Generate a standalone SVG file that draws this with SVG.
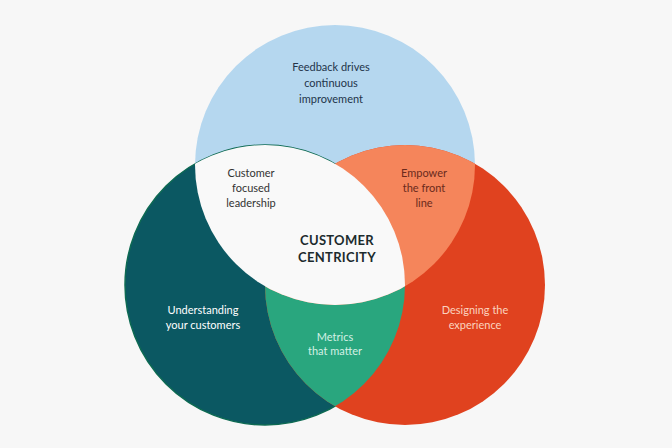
<svg xmlns="http://www.w3.org/2000/svg" width="672" height="448" viewBox="0 0 672 448">
<style>
.lbl{font-family:Lato,"Open Sans","Liberation Sans",sans-serif;font-size:11px;text-anchor:middle}
.big{font-family:Lato,"Open Sans","Liberation Sans",sans-serif;font-size:13px;font-weight:bold;text-anchor:middle;fill:#1c2b2e;letter-spacing:0.3px}
</style>
<defs>
<circle id="cB" cx="335" cy="165" r="140"/>
<circle id="cT" cx="265" cy="285" r="140"/>
<circle id="cO" cx="405" cy="285" r="140"/>
<clipPath id="clipB"><use href="#cB"/></clipPath>
<clipPath id="clipO"><use href="#cO"/></clipPath>
</defs>
<rect width="672" height="448" fill="#f7f7f7"/>
<g id="feedback">
<use href="#cB" fill="#b5d7ef"/>
<text class="lbl" fill="#23344a"><tspan x="331" y="71">Feedback drives</tspan><tspan x="331" y="87">continuous</tspan><tspan x="331" y="103">improvement</tspan></text>
</g>
<g id="understanding">
<use href="#cT" fill="#0b5862" stroke="#0d6a52" stroke-width="1.5"/>
<text class="lbl" fill="#ffffff"><tspan x="203" y="314">Understanding</tspan><tspan x="203" y="329">your customers</tspan></text>
</g>
<g id="designing">
<use href="#cO" fill="#e0421f"/>
<text class="lbl" fill="#fbd3bf"><tspan x="475" y="314">Designing the</tspan><tspan x="475" y="329">experience</tspan></text>
</g>
<g id="metrics">
<use href="#cT" fill="#29a67e" clip-path="url(#clipO)"/>
<text class="lbl" fill="#d4f0e4"><tspan x="335" y="341">Metrics</tspan><tspan x="335" y="355">that matter</tspan></text>
</g>
<g id="empower">
<use href="#cO" fill="#f5855b" clip-path="url(#clipB)"/>
<text class="lbl" fill="#6a2a1c"><tspan x="424" y="177">Empower</tspan><tspan x="424" y="192">the front</tspan><tspan x="424" y="207">line</tspan></text>
</g>
<g id="leadership">
<use href="#cT" fill="#f9f9f9" clip-path="url(#clipB)"/>
<text class="lbl" fill="#333333"><tspan x="251" y="177">Customer</tspan><tspan x="251" y="192">focused</tspan><tspan x="251" y="207">leadership</tspan></text>
</g>
<g id="centricity">
<text class="big"><tspan x="337" y="245">CUSTOMER</tspan><tspan x="337" y="262">CENTRICITY</tspan></text>
</g>
<g id="connectors"/>
</svg>
